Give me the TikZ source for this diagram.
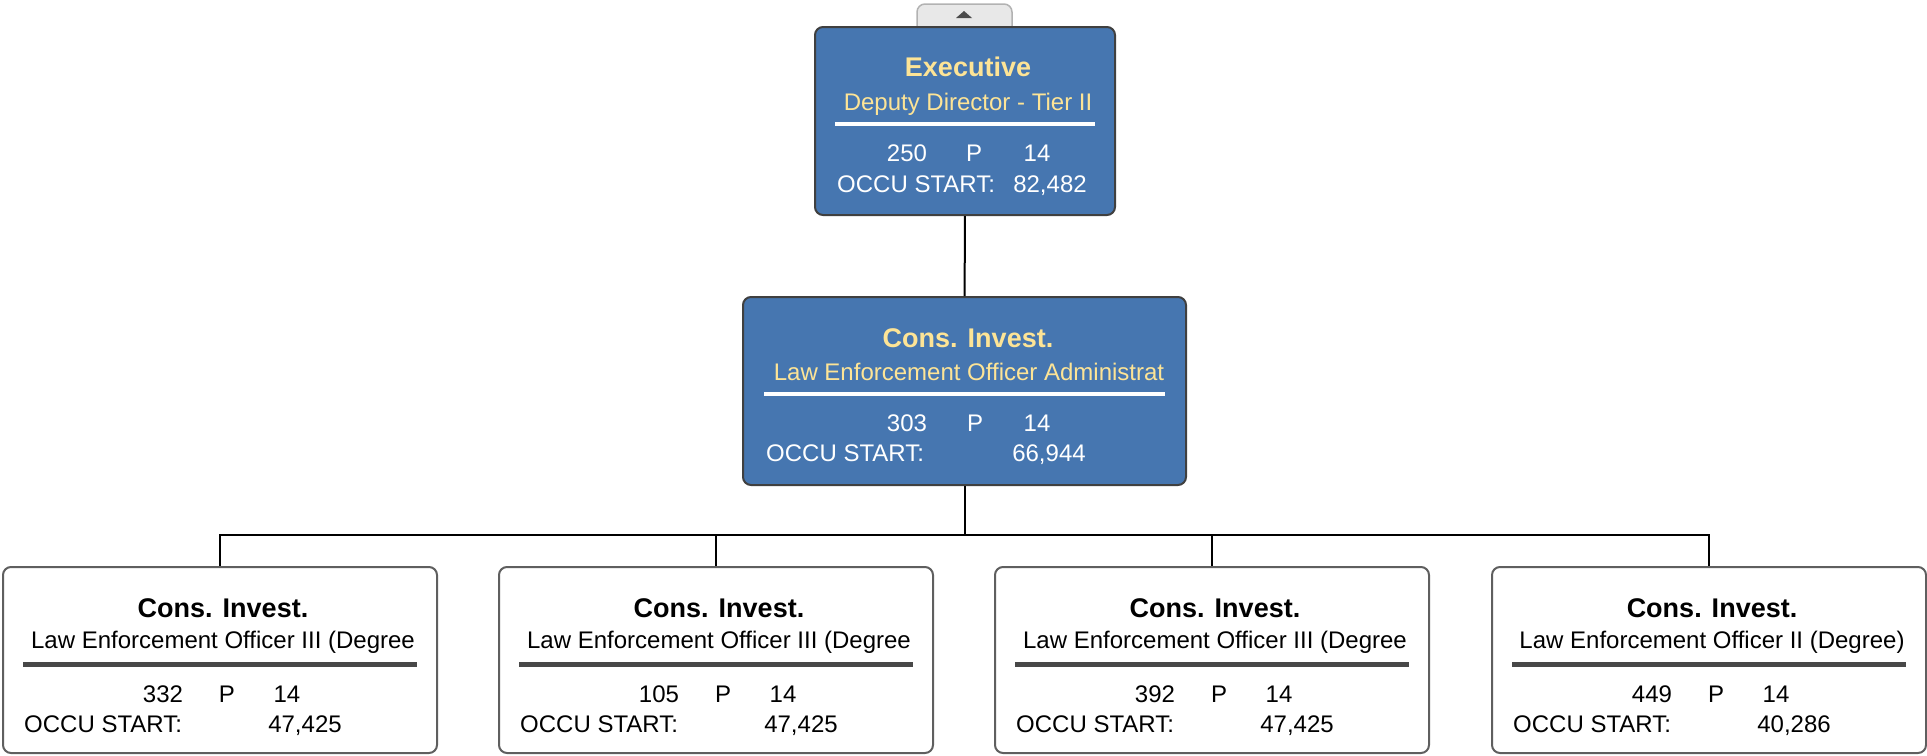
\documentclass[tikz,border=0pt]{standalone}
\usepackage{fontspec}
\setmainfont{Liberation Sans}
\definecolor{boxblue}{RGB}{70,118,176}
\definecolor{titlegold}{RGB}{253,228,150}
\definecolor{rulegray}{RGB}{72,72,72}
\definecolor{framegray}{RGB}{95,95,95}
\definecolor{tabgray}{RGB}{232,232,232}
\tikzset{
  bluebox/.style={shape=rectangle,rounded corners=8pt,fill=boxblue,draw=black!75,line width=2pt},
  whitebox/.style={shape=rectangle,rounded corners=8pt,fill=white,draw=framegray,line width=2pt},
  titletext/.style={inner sep=0pt,anchor=base,font=\bfseries\fontsize{27}{30}\selectfont},
  subtext/.style={inner sep=0pt,anchor=base,font=\fontsize{24}{28}\selectfont},
  infotext/.style={inner sep=0pt,anchor=base,font=\fontsize{24}{28}\selectfont},
  link/.style={draw=black,line width=2pt}
}
\begin{document}
\begin{tikzpicture}[x=1pt,y=-1pt]
\useasboundingbox (0,0) rectangle (1927,755);
% collapse tab above the top box
\draw[fill=tabgray,draw=black!30,line width=1.5pt,rounded corners=8pt] (917,30) -- (917,4) -- (1012,4) -- (1012,30);
\fill[black!70] (956,18) -- (972,18) -- (964,11) -- cycle;

% boxes
\node[bluebox,minimum width=300pt,minimum height=188pt] (exec) at (965,121) {};
\node[bluebox,minimum width=443pt,minimum height=188pt] (lead) at (964.5,391) {};
\node[whitebox,minimum width=434pt,minimum height=186pt] (off1) at (220,660) {};
\node[whitebox,minimum width=434pt,minimum height=186pt] (off2) at (716,660) {};
\node[whitebox,minimum width=434pt,minimum height=186pt] (off3) at (1212,660) {};
\node[whitebox,minimum width=434pt,minimum height=186pt] (off4) at (1709,660) {};

% top box
\node[titletext,text=titlegold] (exec-t) at (968,76) {Executive};
\node[subtext,text=titlegold] (exec-s) at (968,110) {Deputy Director - Tier II};
\draw[white,line width=4.5pt] (835,124) -- (1095,124);
\node[infotext,text=white] (exec-n) at (907,161) {250};
\node[infotext,text=white] (exec-p) at (974,161) {P};
\node[infotext,text=white] (exec-g) at (1037,161) {14};
\node[infotext,text=white,anchor=base west] (exec-o) at (837,192) {OCCU START:};
\node[infotext,text=white] (exec-v) at (1050,192) {82,482};

% middle box
\node[titletext,text=titlegold] (lead-t) at (968,347) {Cons. Invest.};
\node[subtext,text=titlegold] (lead-s) at (969,380) {Law Enforcement Officer Administrat};
\draw[white,line width=4.5pt] (764,394) -- (1165,394);
\node[infotext,text=white] (lead-n) at (907,431) {303};
\node[infotext,text=white] (lead-p) at (975,431) {P};
\node[infotext,text=white] (lead-g) at (1037,431) {14};
\node[infotext,text=white,anchor=base west] (lead-o) at (766,461) {OCCU START:};
\node[infotext,text=white] (lead-v) at (1049,461) {66,944};

% bottom boxes
\node[titletext] (off1-t) at (223,617) {Cons. Invest.};
\node[subtext] (off1-s) at (223,648) {Law Enforcement Officer III (Degree};
\draw[rulegray,line width=5pt] (23,664) -- (417,664);
\node[infotext] (off1-n) at (163,702) {332};
\node[infotext] (off1-p) at (227,702) {P};
\node[infotext] (off1-g) at (287,702) {14};
\node[infotext,anchor=base west] (off1-o) at (24,732) {OCCU START:};
\node[infotext] (off1-v) at (305,732) {47,425};

\node[titletext] (off2-t) at (719,617) {Cons. Invest.};
\node[subtext] (off2-s) at (719,648) {Law Enforcement Officer III (Degree};
\draw[rulegray,line width=5pt] (519,664) -- (913,664);
\node[infotext] (off2-n) at (659,702) {105};
\node[infotext] (off2-p) at (723,702) {P};
\node[infotext] (off2-g) at (783,702) {14};
\node[infotext,anchor=base west] (off2-o) at (520,732) {OCCU START:};
\node[infotext] (off2-v) at (801,732) {47,425};

\node[titletext] (off3-t) at (1215,617) {Cons. Invest.};
\node[subtext] (off3-s) at (1215,648) {Law Enforcement Officer III (Degree};
\draw[rulegray,line width=5pt] (1015,664) -- (1409,664);
\node[infotext] (off3-n) at (1155,702) {392};
\node[infotext] (off3-p) at (1219,702) {P};
\node[infotext] (off3-g) at (1279,702) {14};
\node[infotext,anchor=base west] (off3-o) at (1016,732) {OCCU START:};
\node[infotext] (off3-v) at (1297,732) {47,425};

\node[titletext] (off4-t) at (1712,617) {Cons. Invest.};
\node[subtext] (off4-s) at (1712,648) {Law Enforcement Officer II (Degree)};
\draw[rulegray,line width=5pt] (1512,664) -- (1906,664);
\node[infotext] (off4-n) at (1652,702) {449};
\node[infotext] (off4-p) at (1716,702) {P};
\node[infotext] (off4-g) at (1776,702) {14};
\node[infotext,anchor=base west] (off4-o) at (1513,732) {OCCU START:};
\node[infotext] (off4-v) at (1794,732) {40,286};

% connectors
\coordinate (bus) at (964.5,535);
\path [link] (exec) edge (lead);
\path [link] (lead.south) edge (bus);
\draw [link] (bus) -| (off1.north);
\draw [link] (bus) -| (off2.north);
\draw [link] (bus) -| (off3.north);
\draw [link] (bus) -| (off4.north);
\end{tikzpicture}
\end{document}
